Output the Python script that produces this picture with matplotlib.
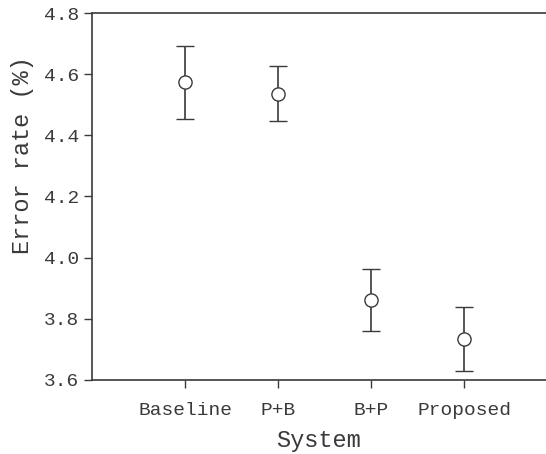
import numpy as np
import matplotlib.pyplot as plt

systems = ["Baseline", "P+B", "B+P", "Proposed"]
error_mean = [4.573, 4.535, 3.862, 3.734]
error_low = [4.453, 4.446, 3.761, 3.628]
error_high = [4.691, 4.627, 3.962, 3.838]

plt.rcParams["font.family"] = ["Liberation Mono", "DejaVu Sans Mono"]
ink = "#3a3a3a"

fig = plt.figure(figsize=(5.46, 4.54), dpi=100)
ax = fig.add_axes([92 / 546, 1 - 380 / 454, 1 - 92 / 546, 367 / 454])

x = np.arange(1, len(systems) + 1)
mean = np.array(error_mean)
yerr = [mean - np.array(error_low), np.array(error_high) - mean]
ax.errorbar(x, mean, yerr=yerr, fmt="o", ms=9.5, mfc="white", mec=ink,
            mew=1.0, ecolor=ink, elinewidth=1.2, capsize=6.5, capthick=1.2)

ax.set_xlim(0, 4.88)
ax.set_ylim(3.6, 4.8)
ax.set_xticks(x)
ax.set_xticklabels(systems)
ax.set_yticks(np.arange(3.6, 4.81, 0.2))
ax.set_yticklabels([f"{v:.1f}" for v in np.arange(3.6, 4.81, 0.2)])

for side in ("left", "bottom", "top"):
    ax.spines[side].set_color(ink)
    ax.spines[side].set_linewidth(1.2)
ax.spines["right"].set_visible(False)
ax.tick_params(direction="out", length=6, width=1.0, color=ink,
               labelcolor=ink, labelsize=14)
ax.tick_params(axis="y", pad=3)
ax.tick_params(axis="x", pad=10)

ax.set_xlabel("System", fontsize=17, color=ink, labelpad=7)
ax.set_ylabel("Error rate (%)", fontsize=17, color=ink)
# y label sits a bit above the middle of the axis
ax.yaxis.set_label_coords(-0.128, 0.613)

fig.savefig("out.png", dpi=100)
